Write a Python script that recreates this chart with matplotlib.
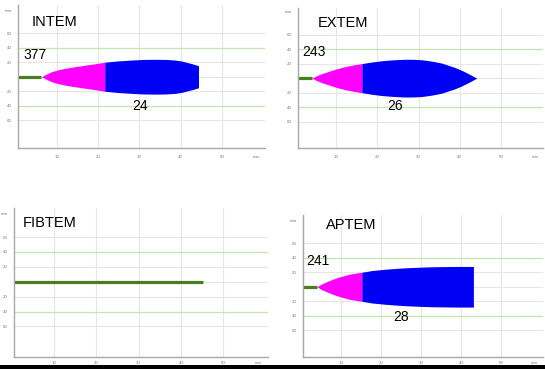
import matplotlib
matplotlib.use("Agg")
import matplotlib.pyplot as plt
from matplotlib.patches import Rectangle

plt.rcParams['font.family'] = ['Liberation Sans', 'DejaVu Sans']

# ---- ROTEM temogram data: time (min) vs. clot amplitude (mm) ----
tests = ["INTEM", "EXTEM", "FIBTEM", "APTEM"]

# clotting time (s) and max clot firmness (mm) shown as labels
ct_seconds = [377, 243, None, 241]
mcf_mm = [24, 26, None, 28]

# time at which amplitude reaches 20 mm (end of clot formation phase)
cft_end_min = [21.6, 16.2, None, 15.2]

# total run time (min)
run_end_min = [44.3, 44.1, 45.3, 43.1]

intem_t = [6.28, 7.5, 8.7, 10.3, 11.9, 14.0, 16.0, 18.8, 21.6, 24.8, 28.1, 31.0,
           33.8, 36.5, 38.6, 40.3, 41.8, 43.0, 44.3]
intem_a = [0, 3.7, 6.9, 9.5, 11.5, 13.5, 15.2, 17.5, 20, 21.8, 23, 23.8,
           24, 23.8, 23, 21.5, 19.3, 17.5, 15.2]

extem_t = [4.05, 5.3, 6.6, 8.1, 10.1, 12.2, 14.2, 16.2, 18.6, 21.1, 24.0, 26.7,
           28.8, 30.8, 33.2, 35.6, 38.8, 40.5, 42.3, 44.1]
extem_a = [0, 3.5, 6.5, 9.2, 12.8, 16, 18.2, 20, 22.2, 24, 25.3, 26,
           25.9, 25.3, 23.4, 20.7, 14.7, 10.6, 5.5, 0]

aptem_t = [4.02, 5.0, 6.4, 8.0, 9.75, 12.25, 15.2, 17.8, 20.6, 23.5, 26.4, 29.8,
           33.1, 36.0, 38.9, 43.1]
aptem_a = [0, 3.5, 6.9, 10.5, 13.8, 17.5, 20, 22.4, 23.9, 25.2, 26.2, 27,
           27.6, 27.8, 28, 28]

curves = [(intem_t, intem_a), (extem_t, extem_a), None, (aptem_t, aptem_a)]

x_ticks = [10, 20, 30, 40, 50]
y_ticks = [60, 40, 20, -20, -40, -60]
y_tick_labels = ["60", "40", "20", "20", "40", "60"]

# ---- styling ----
W, H = 545, 369
CT_GREEN = "#4a7d1e"
MAGENTA = "#ff00ff"
BLUE = "#0000f4"
GRID_GRAY = "#e6e6e6"
GRID_GREEN = "#c5e4b0"
AXIS_GRAY = "#a8a8a8"
TICK_GRAY = "#7a7a7a"

# panel boxes in pixels (left, top, right, bottom), axis limits, tick pads
layout = [
    dict(box=(18, 5, 265, 148), xlim=(0.6, 60.4), ylim=(-98.3, 98.9), xpad=5.0,
         title=(3.9, 75.4), ct=(1.8, 30), mcf=(30.1, -41)),
    dict(box=(298, 8, 543, 148), xlim=(0.7, 60.2), ylim=(-96.2, 96.6), xpad=5.0,
         title=(5.4, 76), ct=(1.8, 35.5), mcf=(24.3, -38.8)),
    dict(box=(14, 208, 268, 357), xlim=(0.53, 60.6), ylim=(-101, 99), xpad=3.0,
         title=(2.6, 78.4), ct=None, mcf=None),
    dict(box=(303, 215, 543, 357), xlim=(0.5, 60.5), ylim=(-96.8, 98.9), xpad=3.0,
         title=(6.2, 85), ct=(1.4, 36), mcf=(25.1, -41)),
]

fig = plt.figure(figsize=(W / 100, H / 100), dpi=100)
fig.patch.set_facecolor("white")

for i, name in enumerate(tests):
    L = layout[i]
    l, t, r, b = L["box"]
    ax = fig.add_axes([l / W, 1 - b / H, (r - l) / W, (b - t) / H])
    ax.set_xlim(*L["xlim"])
    ax.set_ylim(*L["ylim"])

    # background grid
    for xv in x_ticks:
        ax.axvline(xv, color=GRID_GRAY, lw=0.8, zorder=0)
    for yv in [60, 20, 0, -20, -60]:
        ax.axhline(yv, color=GRID_GRAY, lw=0.8, zorder=0)
    for yv in [40, -40]:
        ax.axhline(yv, color=GRID_GREEN, lw=0.9, zorder=0)

    # clotting time baseline
    ct_min = ct_seconds[i] / 60 if ct_seconds[i] else run_end_min[i]
    ax.plot([0, ct_min], [0, 0], color=CT_GREEN, lw=2.3,
            solid_capstyle="butt", zorder=2)

    if curves[i] is not None:
        tt, aa = curves[i]
        k = tt.index(cft_end_min[i])
        t1, a1 = tt[:k + 1], aa[:k + 1]
        t2, a2 = tt[k:], aa[k:]
        ax.fill_between(t1, [-v for v in a1], a1, color=MAGENTA, lw=0, zorder=3)
        ax.fill_between(t2, [-v for v in a2], a2, color=BLUE, lw=0, zorder=3)

    # spines and ticks
    for s in ["top", "right"]:
        ax.spines[s].set_visible(False)
    for s in ["left", "bottom"]:
        ax.spines[s].set_color(AXIS_GRAY)
        ax.spines[s].set_linewidth(1.0)
    ax.set_xticks(x_ticks)
    ax.set_xticklabels([str(v) for v in x_ticks])
    ax.set_yticks(y_ticks + [92])
    ax.set_yticklabels(y_tick_labels + ["mm"])
    ax.tick_params(axis="both", length=0, labelsize=3.2, colors=TICK_GRAY)
    ax.tick_params(axis="x", pad=L["xpad"])
    ax.tick_params(axis="y", pad=4.5)
    # unit label at the end of the time axis, on the tick-label row
    ax.annotate("min", xy=(58.3, 0), xycoords=ax.get_xaxis_transform(),
                xytext=(0, -L["xpad"]), textcoords="offset points",
                fontsize=3.2, color=TICK_GRAY, ha="center", va="top",
                annotation_clip=False)

    # labels
    ax.text(*L["title"], name, fontsize=10.5, color="black",
            ha="left", va="center", zorder=5)
    if L["ct"] is not None:
        ax.text(*L["ct"], str(ct_seconds[i]), fontsize=10, color="black",
                ha="left", va="center", zorder=5)
    if L["mcf"] is not None:
        ax.text(*L["mcf"], str(mcf_mm[i]), fontsize=10, color="black",
                ha="center", va="center", zorder=5)

# dark strip along the bottom edge
fig.patches.append(Rectangle((0, 0), 1, 4.5 / H, transform=fig.transFigure,
                             facecolor="black", edgecolor="none", zorder=10))

fig.savefig("out.png", dpi=100, facecolor="white")
